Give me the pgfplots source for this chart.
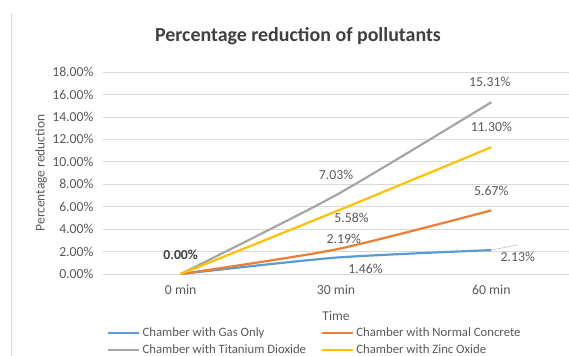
\documentclass[border=0pt]{standalone}
\usepackage{pgfplots}
\pgfplotsset{compat=1.18}
\usepackage{fontspec}
\setmainfont{Carlito}
\definecolor{cblue}{HTML}{5B9BD5}
\definecolor{corange}{HTML}{ED7D31}
\definecolor{cgray}{HTML}{A5A5A5}
\definecolor{cgold}{HTML}{FFC000}
\definecolor{txt}{HTML}{595959}
\definecolor{gridc}{HTML}{D9D9D9}
\begin{document}
\begin{tikzpicture}
\path[use as bounding box] (-103bp,-82bp) rectangle (466bp,274bp);
\draw[gridc, line width=0.6pt] (-92bp,261bp) -- (-92bp,-82bp);
\begin{axis}[
  at={(0,0)}, anchor=south west,
  scale only axis, width=466bp, height=202bp,
  xmin=-0.5, xmax=2.5, ymin=0, ymax=18,
  xtick={0,1,2}, xticklabels={0 min,30 min,60 min},
  ytick={0,2,...,18},
  yticklabel={\pgfmathprintnumber[fixed,fixed zerofill,precision=2]{\tick}\%},
  /pgf/number format/assume math mode=true,
  axis line style={draw=none},
  major tick length=0pt,
  ymajorgrids, xmajorgrids=false, grid style={draw=gridc, line width=0.6pt},
  tick label style={font=\fontsize{13.8}{15}\selectfont, text=txt},
  yticklabel style={xshift=-6bp},
  xticklabel style={yshift=-8bp},
  xlabel={Time}, ylabel={Percentage reduction},
  label style={font=\fontsize{13.5}{15}\selectfont, text=txt},
  xlabel style={at={(axis description cs:0.5,-0.208)}, anchor=center},
  ylabel style={at={(axis description cs:-0.133,0.5)}, anchor=center},
  legend columns=2,
  legend cell align=left,
  legend style={draw=none, fill=none, font=\fontsize{12.8}{14}\selectfont, text=txt,
    at={(axis description cs:0.009,-0.255)}, anchor=north west,
    /tikz/every even column/.append style={column sep=13bp},
    row sep=2.5bp, inner sep=0pt},
  legend image code/.code={\draw[#1, line width=2.2pt] (0bp,0bp) -- (31bp,0bp);},
]
\addplot[cblue, line width=2.2pt, smooth, tension=0.4] coordinates {(0,0) (1,1.46) (2,2.13)};
\addlegendentry{Chamber with Gas Only}
\addplot[corange, line width=2.2pt, smooth, tension=0.4] coordinates {(0,0) (1,2.19) (2,5.67)};
\addlegendentry{Chamber with Normal Concrete}
\addplot[cgray, line width=2.2pt, smooth, tension=0.4] coordinates {(0,0) (1,7.03) (2,15.31)};
\addlegendentry{Chamber with Titanium Dioxide}
\addplot[cgold, line width=2.2pt, smooth, tension=0.4] coordinates {(0,0) (1,5.58) (2,11.30)};
\addlegendentry{Chamber with Zinc Oxide}
\draw[cgray!70, line width=0.6pt] (axis cs:2,2.13) -- (axis cs:2.17,2.6);
\begin{scope}[every node/.style={font=\fontsize{13.8}{15}\selectfont, text=txt}]
\node at (axis cs:1.99,17.1) {15.31\%};
\node at (axis cs:2.0,13.1) {11.30\%};
\node at (axis cs:2.0,7.4) {5.67\%};
\node at (axis cs:2.17,1.5) {2.13\%};
\node at (axis cs:1.0,8.8) {7.03\%};
\node at (axis cs:1.1,5.0) {5.58\%};
\node at (axis cs:1.05,3.1) {2.19\%};
\node at (axis cs:1.19,0.45) {1.46\%};
\node[font=\fontsize{13.8}{15}\selectfont\bfseries, text=black!75] at (axis cs:0,1.7) {0.00\%};
\end{scope}
\end{axis}
\node[font=\fontsize{20}{23}\selectfont\bfseries, text=black!75] at (195bp,238bp) {Percentage reduction of pollutants};
\end{tikzpicture}
\end{document}
